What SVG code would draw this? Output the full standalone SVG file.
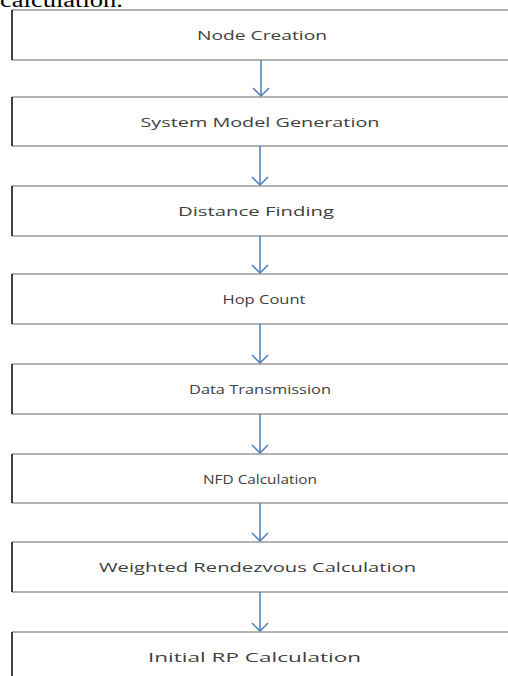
<svg xmlns="http://www.w3.org/2000/svg" width="508" height="676" viewBox="0 0 508 676">
<style>
.edge{fill:none;stroke:#9a9a9a;stroke-width:1.6}
.left{fill:none;stroke:#000;stroke-width:1.5}
.lbl{font-family:"Open Sans","Noto Sans",sans-serif;font-size:13.5px;fill:#404040;text-anchor:middle}
.conn{fill:none;stroke:#4a7ebb;stroke-width:1.5}
</style>
<defs>
<marker id="ah" viewBox="0 0 10 18" refX="9" refY="9" markerWidth="10" markerHeight="18" markerUnits="userSpaceOnUse" orient="auto">
<path d="M1,1 L9,9 L1,17" fill="none" stroke="#4a7ebb" stroke-width="1.5"/>
</marker>
</defs>
<rect width="508" height="676" fill="#fff"/>
<text x="0" y="7" font-family="'Liberation Serif',serif" font-size="20" fill="#000" textLength="123" lengthAdjust="spacingAndGlyphs">calculation.</text>
<g id="n1"><path class="edge" d="M12,10 H510 M12,60 H510"/><path class="left" d="M12,10 V60"/><text class="lbl" x="262" y="40" textLength="130" lengthAdjust="spacingAndGlyphs">Node Creation</text></g>
<g id="n2"><path class="edge" d="M12,97 H510 M12,146 H510"/><path class="left" d="M12,97 V146"/><text class="lbl" x="260" y="127" textLength="239" lengthAdjust="spacingAndGlyphs">System Model Generation</text></g>
<g id="n3"><path class="edge" d="M12,186 H510 M12,236 H510"/><path class="left" d="M12,186 V236"/><text class="lbl" x="256" y="216" textLength="156" lengthAdjust="spacingAndGlyphs">Distance Finding</text></g>
<g id="n4"><path class="edge" d="M12,274 H510 M12,324 H510"/><path class="left" d="M12,274 V324"/><text class="lbl" x="264" y="304" textLength="83" lengthAdjust="spacingAndGlyphs">Hop Count</text></g>
<g id="n5"><path class="edge" d="M12,364 H510 M12,414 H510"/><path class="left" d="M12,364 V414"/><text class="lbl" x="260" y="394" textLength="142" lengthAdjust="spacingAndGlyphs">Data Transmission</text></g>
<g id="n6"><path class="edge" d="M12,454 H510 M12,503 H510"/><path class="left" d="M12,454 V503"/><text class="lbl" x="260" y="484" textLength="114" lengthAdjust="spacingAndGlyphs">NFD Calculation</text></g>
<g id="n7"><path class="edge" d="M12,542 H510 M12,592 H510"/><path class="left" d="M12,542 V592"/><text class="lbl" x="257.5" y="572" textLength="317" lengthAdjust="spacingAndGlyphs">Weighted Rendezvous Calculation</text></g>
<g id="n8"><path class="edge" d="M12,632 H510"/><path class="left" d="M12,632 V678"/><text class="lbl" x="254.5" y="662" textLength="213" lengthAdjust="spacingAndGlyphs">Initial RP Calculation</text></g>
<g id="connectors">
<path class="conn" d="M261,60 V96" marker-end="url(#ah)"/>
<path class="conn" d="M260,146 V185" marker-end="url(#ah)"/>
<path class="conn" d="M260,236 V273" marker-end="url(#ah)"/>
<path class="conn" d="M260,324 V363" marker-end="url(#ah)"/>
<path class="conn" d="M260,414 V453" marker-end="url(#ah)"/>
<path class="conn" d="M260,503 V541" marker-end="url(#ah)"/>
<path class="conn" d="M260,592 V631" marker-end="url(#ah)"/>
</g>
</svg>
